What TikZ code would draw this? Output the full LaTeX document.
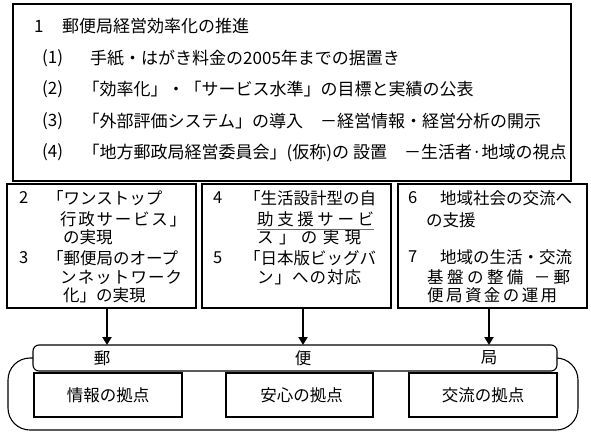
\documentclass[tikz,border=0pt]{standalone}
\usepackage{fontspec}
\setmainfont{Noto Sans CJK JP}
\usetikzlibrary{arrows.meta}
\definecolor{ulc}{RGB}{225,30,205}
\newcommand\sprd[2]{\hbox to #1{#2}}
\begin{document}
\begin{tikzpicture}[x=1pt,y=-1pt,
  frame/.style={draw, line width=1.1pt, anchor=north west, inner sep=0pt, outer sep=0pt},
  tt/.style={anchor=west, inner sep=0pt, font=\fontsize{17}{17}\selectfont},
  mt/.style={anchor=west, inner sep=0pt, font=\fontsize{16.5}{16.5}\selectfont},
  bt/.style={inner sep=0pt, font=\fontsize{16.5}{16.5}\selectfont},
  arr/.style={line width=2.6pt, -{Triangle[width=9pt,length=8pt]}}]
\useasboundingbox (0,0) rectangle (591,439);
% top box
\node[frame, minimum width=558pt, minimum height=177pt] (top) at (13,4) {};
\node[tt] (t0n) at (34,26) {1};
\node[tt] (t0) at (62,26) {郵便局経営効率化の推進};
\node[tt] (t1n) at (42,58) {(1)};
\node[tt] (t1) at (90,58) {手紙・はがき料金の2005年までの据置き};
\node[tt] (t2n) at (42,89.5) {(2)};
\node[tt] (t2) at (82.5,89.5) {「効率化」・「サービス水準」の目標と実績の公表};
\node[tt] (t3n) at (42,121) {(3)};
\node[tt] (t3) at (82.5,121) {「外部評価システム」の導入　－経営情報・経営分析の開示};
\node[tt] (t4n) at (42,152.5) {(4)};
\node[tt] (t4) at (82.5,152.5) {「地方郵政局経営委員会」(仮称)の 設置　－生活者·地域の視点};
% middle boxes
\node[frame, minimum width=189pt, minimum height=124pt] (ba) at (7,184) {};
\node[frame, minimum width=189pt, minimum height=124pt] (bb) at (202,184) {};
\node[frame, minimum width=189pt, minimum height=124pt] (bc) at (398,184) {};
% box A
\node[mt] (a1n) at (19,198) {2};
\node[mt] (a1) at (47,198) {「ワンストップ};
\node[mt] (a2) at (60,219) {\sprd{126pt}{行\hfil 政\hfil サ\hfil ー\hfil ビ\hfil ス\hfil 」}};
\node[mt] (a3) at (63,237) {の実現};
\node[mt] (a4n) at (19,258) {3};
\node[mt] (a4) at (47,258) {「郵便局のオープ};
\node[mt] (a5) at (60,277) {\sprd{122pt}{ン\hfil ネ\hfil ッ\hfil ト\hfil ワ\hfil ー\hfil ク}};
\node[mt] (a6) at (63,295) {化」の実現};
% box B
\node[mt] (b1n) at (213,198) {4};
\node[mt] (b1) at (244,198) {「生活設計型の自};
\node[mt] (b2) at (257,219) {\sprd{117pt}{助\hfil 支\hfil 援\hfil サ\hfil ー\hfil ビ}};
\node[mt] (b3) at (257,237) {\sprd{104pt}{ス\hfil 」\hfil の\hfil 実\hfil 現}};
\node[mt] (b4n) at (213,258) {5};
\node[mt] (b4) at (244,258) {「日本版ビッグバ};
\node[mt] (b5) at (257,277) {\sprd{104pt}{ン\hfil 」\hfil へ\hfil の\hfil 対\hfil 応}};
\draw[ulc, line width=0.9pt] (b2.south west) ++(0,3) coordinate (ul1) -- (ul1 -| b2.south east);
% box C
\node[mt] (c1n) at (408,198) {6};
\node[mt] (c1) at (440,198) {地域社会の交流へ};
\node[mt] (c2) at (426,220) {の支援};
\node[mt] (c3n) at (408,257) {7};
\node[mt] (c3) at (440,257) {地域の生活・交流};
\node[mt] (c4) at (427,277) {\sprd{143pt}{基\hfil 盤\hfil の\hfil 整\hfil 備\hfil \hfil \hfil －\hfil 郵}};
\node[mt] (c5) at (427,295) {\sprd{130pt}{便\hfil 局\hfil 資\hfil 金\hfil の\hfil 運\hfil 用}};
% bottom outer shape
\coordinate (ol) at (33,358);
\coordinate (or) at (557,358);
\draw[line width=1.1pt, rounded corners=22pt] (ol) -- (8,358) -- (8,430) -- (578,430) -- (578,358) -- (or);
\node[frame, fill=white, minimum width=524pt, minimum height=26pt, rounded corners=6pt] (band) at (33,345) {};
\node[bt] (l1) at (102,358) {郵};
\node[bt] (l2) at (303,358) {便};
\node[bt] (l3) at (489,358) {局};
\node[frame, minimum width=148pt, minimum height=44pt] (p1) at (34,373) {};
\node[frame, minimum width=147pt, minimum height=44pt] (p2) at (226,373) {};
\node[frame, minimum width=148pt, minimum height=44pt] (p3) at (409,373) {};
\node[bt] (p1t) at (p1.center) {情報の拠点};
\node[bt] (p2t) at ([xshift=2pt]p2.center) {安心の拠点};
\node[bt] (p3t) at (p3.center) {交流の拠点};
% arrows
\draw[arr] (107,0 |- ba.south) -- (107,0 |- band.north);
\draw[arr] (303,0 |- bb.south) -- (303,0 |- band.north);
\draw[arr] (489,0 |- bc.south) -- (489,0 |- band.north);
\end{tikzpicture}
\end{document}
